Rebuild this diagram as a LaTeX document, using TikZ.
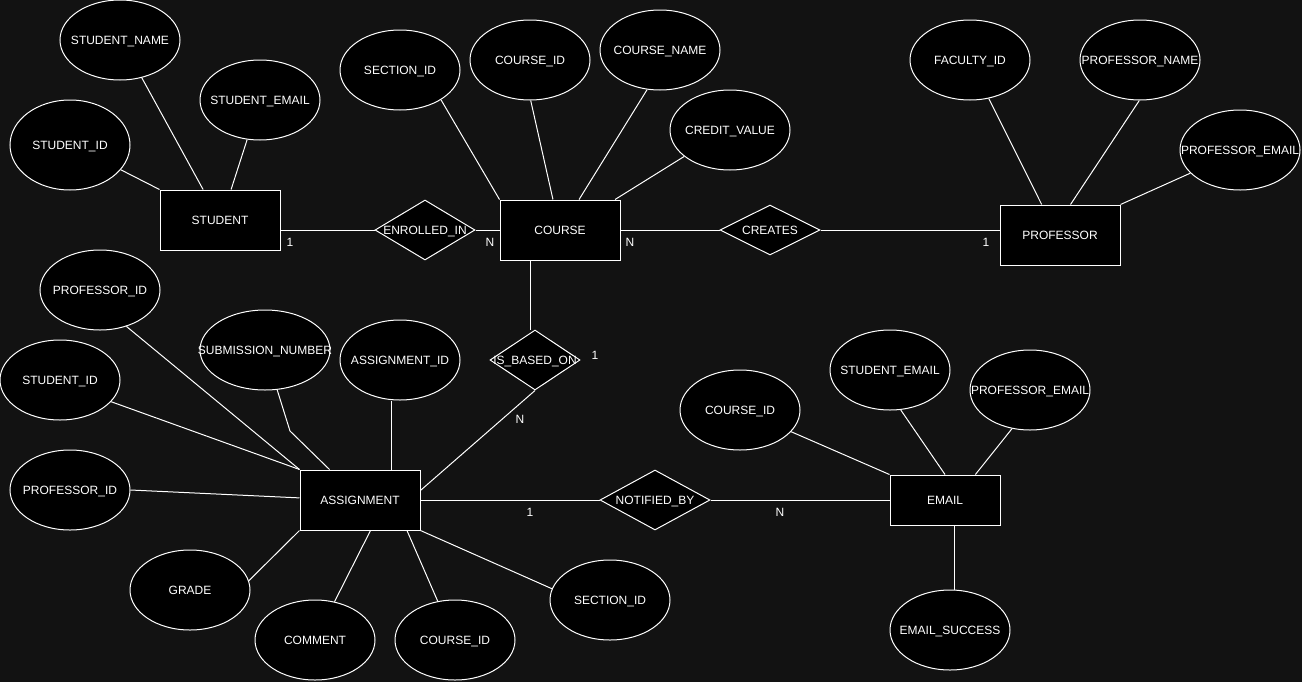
\documentclass[tikz,border=0pt]{standalone}
\usepackage{fontspec}
\setmainfont{Liberation Sans}
\usetikzlibrary{shapes.geometric,calc}
\definecolor{bg}{HTML}{121212}
\newcommand\erl[1]{\makebox[0pt]{#1}}
\begin{document}
\begin{tikzpicture}[x=0.75pt,y=-0.75pt,
  every node/.style={font=\fontsize{9}{11}\selectfont, text=white, text height=6.45pt, text depth=0pt},
  attr/.style={ellipse, draw=white, fill=black, line width=0.75pt, minimum width=90pt, minimum height=60pt, inner sep=0pt},
  ent/.style={rectangle, draw=white, fill=black, line width=0.75pt, minimum width=90pt, minimum height=45pt, inner sep=0pt},
  rel/.style={diamond, draw=white, fill=black, line width=0.75pt, minimum width=75pt, minimum height=45pt, inner sep=0pt},
  conn/.style={draw=white, line width=0.75pt},
  card/.style={inner sep=0pt}]
\fill[bg] (0,0) rectangle (1302,682);
\useasboundingbox (0,0) rectangle (1302,682);

% STUDENT
\node[ent] (stu) at (220,220) {\erl{STUDENT}};
\node[attr] (sname) at (120,40) {\erl{STUDENT\_NAME}};
\node[attr] (semail) at (260,100) {\erl{STUDENT\_EMAIL}};
\node[attr, minimum height=67.5pt] (sid) at (70,145) {\erl{STUDENT\_ID}};
\node[rel] (enr) at (425,230) {\erl{ENROLLED\_IN}};

% COURSE
\node[ent] (course) at (560,230) {\erl{COURSE}};
\node[attr] (secid) at (400,70) {\erl{SECTION\_ID}};
\node[attr] (cid) at (530,60) {\erl{COURSE\_ID}};
\node[attr] (cname) at (660,50) {\erl{COURSE\_NAME}};
\node[attr] (credit) at (730,130) {\erl{CREDIT\_VALUE}};
\node[rel, minimum height=37.5pt] (creates) at (770,230) {\erl{CREATES}};

% PROFESSOR
\node[ent] (prof) at (1060,235) {\erl{PROFESSOR}};
\node[attr] (fac) at (970,60) {\erl{FACULTY\_ID}};
\node[attr] (pname) at (1140,60) {\erl{PROFESSOR\_NAME}};
\node[attr] (pemail) at (1240,150) {\erl{PROFESSOR\_EMAIL}};

% ASSIGNMENT
\node[rel, minimum width=67.5pt] (ibo) at (535,360) {\erl{IS\_BASED\_ON}};
\node[ent] (asg) at (360,500) {\erl{ASSIGNMENT}};
\node[attr] (apid1) at (100,290) {\erl{PROFESSOR\_ID}};
\node[attr, minimum width=97.5pt] (sub) at (265,350) {\erl{SUBMISSION\_NUMBER}};
\node[attr] (aid) at (400,360) {\erl{ASSIGNMENT\_ID}};
\node[attr] (asid) at (60,380) {\erl{STUDENT\_ID}};
\node[attr] (apid2) at (70,490) {\erl{PROFESSOR\_ID}};
\node[attr] (grade) at (190,590) {\erl{GRADE}};
\node[attr] (comment) at (315,640) {\erl{COMMENT}};
\node[attr] (acid) at (455,640) {\erl{COURSE\_ID}};
\node[attr] (asec) at (610,600) {\erl{SECTION\_ID}};
\node[rel, minimum width=82.5pt] (notif) at (655,500) {\erl{NOTIFIED\_BY}};

% EMAIL
\node[ent, minimum width=82.5pt, minimum height=37.5pt] (email) at (945,500) {\erl{EMAIL}};
\node[attr] (ecid) at (740,410) {\erl{COURSE\_ID}};
\node[attr] (esemail) at (890,370) {\erl{STUDENT\_EMAIL}};
\node[attr] (epemail) at (1030,390) {\erl{PROFESSOR\_EMAIL}};
\node[attr] (esucc) at (950,630) {\erl{EMAIL\_SUCCESS}};

% connectors
\draw[conn] (sname.-60) -- (stu.119.5);
\draw[conn] (semail.-108) -- (stu.70);
\draw[conn] (sid.-26.6) -- (stu.north west);
\draw[conn] (enr.west) -- (stu.east |- enr.west);
\draw[conn] (enr.east) -- (course.west);
\draw[conn] (secid.-36) -- (course.north west);
\draw[conn] (cid.-89) -- (course.103);
\draw[conn] (cname.-108) -- (course.58);
\draw[conn] (credit.-150) -- (course.29.5);
\draw[conn] (course.east) -- (creates.west);
\draw[conn] (creates.east) -- (creates.east -| prof.west);
\draw[conn] (fac.-64) -- (prof.121);
\draw[conn] (pname.-91) -- (prof.71.6);
\draw[conn] (pemail.-155) -- (prof.north east);
\coordinate (cb) at ($(course.south)+(-30,0)$);
\draw[conn] (cb) -- (cb |- ibo.north);
\draw[conn] (ibo.south) -- (asg.9.5);
\draw[conn] (asg.east) -- (notif.west);
\draw[conn] (notif.east) -- (email.west);
\draw[conn] (ecid.-23) -- (email.north west);
\draw[conn] (esemail.-75) -- (email.north);
\draw[conn] (epemail.-115) -- (email.40.6);
\coordinate (eb) at ($(email.south)+(9,0)$);
\draw[conn] (eb) -- (eb |- esucc.north);
\draw[conn] (apid1.-54) -- (asg.north west);
\draw[conn] (asid.-23.5) -- (asg.north west);
\coordinate (subbend) at (290,431);
\draw[conn] (sub.-73) -- (subbend) -- (asg.135);
\coordinate (ab) at ($(asg.north)+(31,0)$);
\draw[conn] (ab) -- (ab |- aid.south);
\draw[conn] (apid2.east) -- (asg.178);
\draw[conn] (grade.9.5) -- (asg.south west);
\draw[conn] (comment.63) -- (asg.-71.6);
\draw[conn] (acid.114) -- (asg.-33.7);
\draw[conn] (asec.169.6) -- (asg.south east);

% cardinalities
\node[card] (c1) at (290,242) {1};
\node[card] (c2) at (490,242) {N};
\node[card] (c3) at (630,242) {N};
\node[card] (c4) at (986,242) {1};
\node[card] (c5) at (595,355) {1};
\node[card] (c6) at (520,419) {N};
\node[card] (c7) at (530,512) {1};
\node[card] (c8) at (780,512) {N};
\end{tikzpicture}
\end{document}
